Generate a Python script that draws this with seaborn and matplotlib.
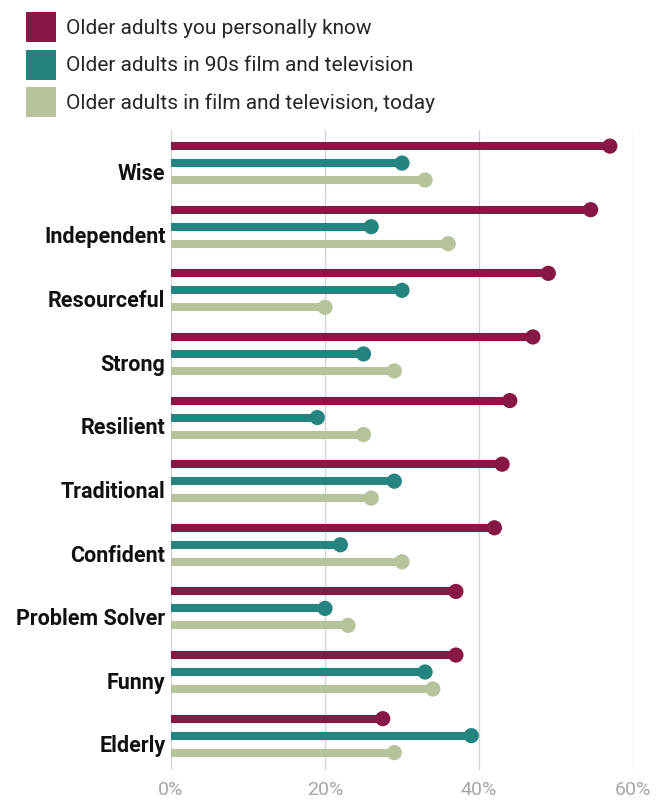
import pandas as pd
import seaborn as sns
import matplotlib.pyplot as plt
from matplotlib.patches import Patch

traits = ["Wise", "Independent", "Resourceful", "Strong", "Resilient",
          "Traditional", "Confident", "Problem Solver", "Funny", "Elderly"]
series = ["Older adults you personally know",
          "Older adults in 90s film and television",
          "Older adults in film and television, today"]
know = [57, 54.5, 49, 47, 44, 43, 42, 37, 37, 27.5]
film_90s = [30, 26, 30, 25, 19, 29, 22, 20, 33, 39]
film_today = [33, 36, 20, 29, 25, 26, 30, 23, 34, 29]
colors = ["#871846", "#268480", "#b7c39a"]
x_ticks = [0, 20, 40, 60]

rows = []
for i, t in enumerate(traits):
    for j, (s, vals) in enumerate(zip(series, [know, film_90s, film_today])):
        rows.append({"trait": t, "series": s, "value": vals[i], "y": i + (j - 1) * 0.267})
df = pd.DataFrame(rows)
palette = dict(zip(series, colors))

sns.set_style("white")
plt.rcParams["font.family"] = ["Roboto", "DejaVu Sans"]

fig = plt.figure(figsize=(6.68, 8.01), dpi=100)
ax = fig.add_axes([171 / 668, 1 - 770 / 801, 462 / 668, 640 / 801])

ax.hlines(df["y"], 0, df["value"], colors=df["series"].map(palette), lw=5.8, zorder=2)
sns.scatterplot(data=df, x="value", y="y", hue="series", palette=palette, s=120,
                linewidth=0, legend=False, ax=ax, zorder=3, clip_on=False)

ax.set_xlim(0, 60)
ax.set_ylim(9.54, -0.52)
ax.set_xticks(x_ticks)
ax.set_xticklabels([f"{v}%" for v in x_ticks], color="#a6a6a6", fontsize=14)
ax.set_yticks([i + 0.13 for i in range(len(traits))])
ax.set_yticklabels(traits, fontsize=15.5, fontweight="bold", color="#111111")
ax.tick_params(axis="y", length=0, pad=4)
ax.tick_params(axis="x", length=0, pad=8)
ax.xaxis.grid(True, color="#d4d4d4", lw=1)
ax.set_axisbelow(True)
for sp in ax.spines.values():
    sp.set_visible(False)
ax.set_xlabel("")
ax.set_ylabel("")

handles = [Patch(facecolor=c, edgecolor="none") for c in colors]
fig.legend(handles, series, loc="upper left", bbox_to_anchor=(26 / 668, 1 - 12 / 801),
           frameon=False, fontsize=15, handlelength=1.45, handleheight=1.84,
           labelspacing=0.36, handletextpad=0.45, borderpad=0, borderaxespad=0)

fig.savefig("out.png", dpi=100)
